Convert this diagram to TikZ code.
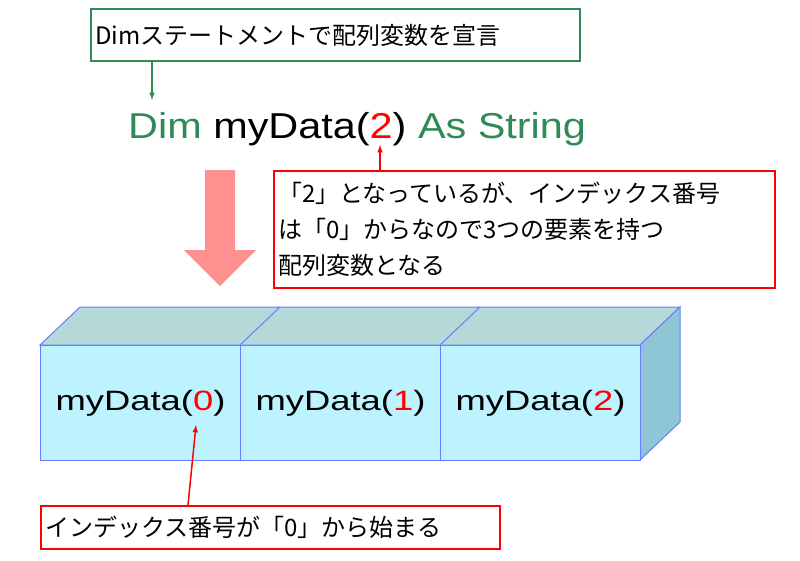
\documentclass[tikz,border=0pt]{standalone}
\usepackage{fontspec}
\usepackage{graphicx}
\setmainfont{Noto Sans CJK JP}
\setsansfont{Liberation Sans}
\usetikzlibrary{positioning}
\definecolor{codegreen}{HTML}{2E8B57}
\definecolor{boxblue}{HTML}{6A7CFF}
\definecolor{cellfront}{HTML}{BDF3FF}
\definecolor{celltop}{HTML}{B5D9D9}
\definecolor{cellside}{HTML}{8FC6D6}
\definecolor{pinkarrow}{HTML}{FF9090}
\newcommand{\wide}[1]{\scalebox{1.3}[1]{#1}}
\tikzset{
  note/.style={draw=#1, line width=2pt, align=left, anchor=north west, inner sep=4pt,
    font=\fontsize{24}{36}\selectfont},
  cell/.style={draw=boxblue, fill=cellfront, line width=1pt, minimum width=200pt, minimum height=115pt,
    anchor=north west, inner sep=0pt, font=\sffamily\fontsize{28}{30}\selectfont},
  pointer/.style={-latex, line width=1.5pt}
}
\begin{document}
\begin{tikzpicture}[x=1pt,y=-1pt]
  \useasboundingbox (0,0) rectangle (800,560);
  % declaration note
  \node[note=codegreen, text width=481pt, minimum height=52pt] (decl) at (90,8) {Dimステートメントで配列変数を宣言};
  \node[anchor=base west, inner sep=0pt, font=\sffamily\fontsize{36}{40}\selectfont] (code) at (128,138)
    {\scalebox{1.15}[1]{\textcolor{codegreen}{Dim} myData(\textcolor{red}{2}) \textcolor{codegreen}{As String}}};
  \coordinate (codetop) at (152,100);
  \draw[pointer, codegreen] (decl.south west -| codetop) -- (codetop);
  % index note
  \node[note=red, text width=493pt, minimum height=117pt] (idx) at (273,170)
    {「2」となっているが、インデックス番号\\は「0」からなので3つの要素を持つ\\配列変数となる};
  \coordinate (two) at (380,145);
  \draw[pointer, red] (idx.north west -| two) -- (two);
  % big arrow
  \fill[pinkarrow] (205,170) -- (235,170) -- (235,250) -- (256,250) -- (220,286) -- (184,250) -- (205,250) -- cycle;
  % array cells
  \fill[celltop, draw=boxblue, line width=1pt] (40,345) -- (80,307) -- (680,307) -- (640,345) -- cycle;
  \foreach \x in {280,480} \draw[boxblue, line width=1pt] (\x,307) -- (\x-40,345);
  \fill[cellside, draw=boxblue, line width=1pt] (640,345) -- (680,307) -- (680,422) -- (640,460) -- cycle;
  \node[cell] (c0) at (40,345) {\wide{myData(\textcolor{red}{0})}};
  \node[cell] (c1) at (240,345) {\wide{myData(\textcolor{red}{1})}};
  \node[cell] (c2) at (440,345) {\wide{myData(\textcolor{red}{2})}};
  % start note
  \node[note=red, text width=451pt, minimum height=43pt] (start) at (40,505) {インデックス番号が「0」から始まる};
  \coordinate (zero) at (196,425);
  \draw[pointer, red] (start.north west) ++(148,0) -- (zero);
\end{tikzpicture}
\end{document}
